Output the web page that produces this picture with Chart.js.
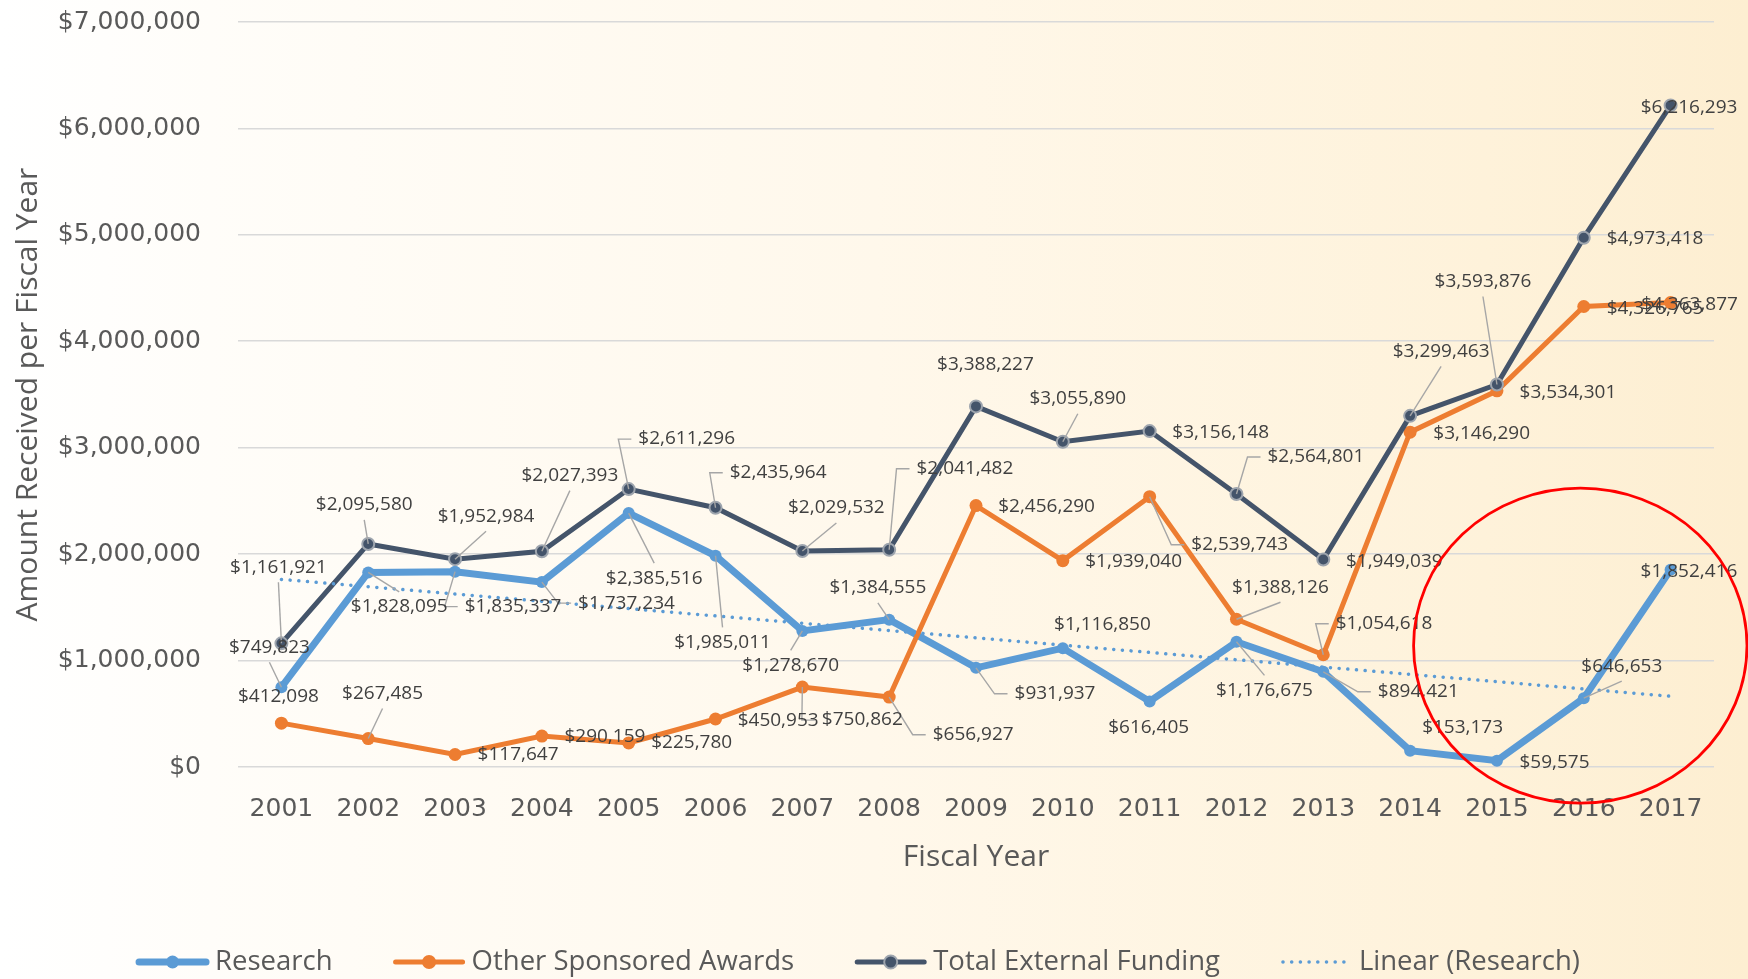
<!DOCTYPE html>
<html>
<head>
<meta charset="utf-8">
<title>External Funding by Fiscal Year</title>
<script src="https://cdn.jsdelivr.net/npm/chart.js@4.4.1/dist/chart.umd.min.js"></script>
<style>
  html, body { margin: 0; padding: 0; }
  body {
    width: 1748px; height: 979px; overflow: hidden;
    background: linear-gradient(90deg, #ffffff 0%, #fffdf9 12%, #fff8eb 50%, #fef2da 85%, #fdeed1 100%);
  }
</style>
</head>
<body>
<canvas id="funding-chart" width="1748" height="979"></canvas>
<script>
// Data
const years = ['2001', '2002', '2003', '2004', '2005', '2006', '2007', '2008', '2009',
               '2010', '2011', '2012', '2013', '2014', '2015', '2016', '2017'];

const research = [749823, 1828095, 1835337, 1737234, 2385516, 1985011, 1278670, 1384555, 931937,
                  1116850, 616405, 1176675, 894421, 153173, 59575, 646653, 1852416];

const otherAwards = [412098, 267485, 117647, 290159, 225780, 450953, 750862, 656927, 2456290,
                     1939040, 2539743, 1388126, 1054618, 3146290, 3534301, 4326765, 4363877];

const totalFunding = [1161921, 2095580, 1952984, 2027393, 2611296, 2435964, 2029532, 2041482, 3388227,
                      3055890, 3156148, 2564801, 1949039, 3299463, 3593876, 4973418, 6216293];

const yTickValues = [0, 1000000, 2000000, 3000000, 4000000, 5000000, 6000000, 7000000];

// Linear (Research) = least squares fit of the research series
const n = research.length;
const xMean = (n - 1) / 2;
const yMean = research.reduce((a, b) => a + b, 0) / n;
let sxy = 0, sxx = 0;
research.forEach((v, i) => { sxy += (i - xMean) * (v - yMean); sxx += (i - xMean) ** 2; });
const slope = sxy / sxx;
const researchTrend = research.map((v, i) => yMean + slope * (i - xMean));

// Label placement relative to each point: [dx, dy, leader line]
const researchLabelPos = [
  [-12, -40, 1], [31, 34.5, 1], [58, 35, 1], [84.6, 21, 1], [25.5, 65, 1], [7, 86.6, 1],
  [-11.7, 34.4, 1], [-11.3, -31.7, 1], [79, 26, 1], [39.6, -24, 0], [-1, 26, 0], [28, 48.6, 1],
  [95, 20, 1], [52.5, -23, 0], [57.6, 1.7, 0], [38, -32, 1], [18.4, 1.5, 0]
];
const otherLabelPos = [
  [-3, -27, 0], [14.3, -45, 1], [63, 0, 0], [63, 0, 0], [63, 0, 0], [62.6, 1.4, 0],
  [60, 33, 1], [84, 37.6, 1], [70.6, 1.3, 0], [70.8, 1, 0], [90, 48, 1], [44, -32, 1],
  [60.8, -31, 1], [71.6, 1, 0], [71, 1.4, 0], [71.3, 2.4, 0], [19, 2, 0]
];
const totalLabelPos = [
  [-3, -76, 1], [-4, -39, 1], [31, -43, 1], [28, -75.6, 1], [58, -50, 1], [62.6, -35, 1],
  [34, -43, 1], [75.7, -81, 1], [9.4, -42, 0], [15, -43, 1], [71, 1, 0], [79.4, -37, 1],
  [71, 2, 0], [31, -64.5, 1], [-14, -103, 1], [71.3, 1.2, 0], [18.5, 2.4, 0]
];

const money = v => '$' + Math.round(v).toLocaleString('en-US');

// Data labels with leader lines
const dataLabelPlugin = {
  id: 'dataLabels',
  afterDatasetsDraw(chart) {
    const ctx = chart.ctx;
    const layouts = [researchLabelPos, otherLabelPos, totalLabelPos];
    ctx.save();
    ctx.font = '19px "Open Sans"';
    const items = [];
    layouts.forEach((pos, di) => {
      const meta = chart.getDatasetMeta(di);
      const values = chart.data.datasets[di].data;
      meta.data.forEach((pt, i) => {
        const [dx, dy, leader] = pos[i];
        const text = money(values[i]);
        const halfW = ctx.measureText(text).width / 2;
        items.push({ px: pt.x, py: pt.y, cx: pt.x + dx, cy: pt.y + dy, dx, dy, leader, text, halfW });
      });
    });
    ctx.strokeStyle = '#a6a6a6';
    ctx.lineWidth = 1.4;
    items.forEach(it => {
      if (!it.leader) return;
      ctx.beginPath();
      ctx.moveTo(it.px, it.py);
      if (Math.abs(it.dx) > it.halfW + 8) {
        const s = Math.sign(it.dx);
        const endX = it.cx - s * (it.halfW + 7);
        ctx.lineTo(endX - s * 13, it.cy);
        ctx.lineTo(endX, it.cy);
      } else {
        ctx.lineTo(it.cx, it.cy + (it.dy < 0 ? 15 : -15));
      }
      ctx.stroke();
    });
    ctx.fillStyle = '#404040';
    ctx.textAlign = 'center';
    ctx.textBaseline = 'middle';
    items.forEach(it => ctx.fillText(it.text, it.cx, it.cy));
    ctx.restore();
  }
};

// Bottom legend drawn from the dataset styles
const legendPlugin = {
  id: 'bottomLegend',
  afterDraw(chart) {
    const ctx = chart.ctx;
    const sets = chart.data.datasets;
    const sample = 73, gap = 6, spacing = 60, y = 962;
    ctx.save();
    ctx.font = '27.5px "Open Sans"';
    const widths = sets.map(d => ctx.measureText(d.label).width);
    const total = widths.reduce((a, w) => a + sample + gap + w, 0) + spacing * (sets.length - 1);
    let x = 858 - total / 2;
    sets.forEach((d, i) => {
      ctx.save();
      ctx.strokeStyle = d.borderColor;
      ctx.lineWidth = d.borderWidth;
      ctx.lineCap = 'round';
      ctx.beginPath();
      if (d.borderDash) {
        ctx.setLineDash(d.borderDash);
        ctx.moveTo(x + 3, y);
        ctx.lineTo(x + sample - 6, y);
        ctx.stroke();
      } else {
        ctx.moveTo(x + 3, y);
        ctx.lineTo(x + sample - 3, y);
        ctx.stroke();
        ctx.beginPath();
        ctx.arc(x + sample / 2, y, d.pointRadius + 0.5, 0, Math.PI * 2);
        ctx.fillStyle = d.pointBackgroundColor;
        ctx.fill();
        if (d.pointBorderWidth) {
          ctx.lineWidth = d.pointBorderWidth;
          ctx.strokeStyle = d.pointBorderColor;
          ctx.stroke();
        }
      }
      ctx.restore();
      ctx.fillStyle = '#595959';
      ctx.textAlign = 'left';
      ctx.textBaseline = 'middle';
      ctx.fillText(d.label, x + sample + gap, y);
      x += sample + gap + widths[i] + spacing;
    });
    ctx.restore();
  }
};

// Red ellipse highlighting the last three years of research
const highlightPlugin = {
  id: 'highlight',
  afterDraw(chart) {
    const { ctx, scales: { x, y } } = chart;
    const cx = x.getPixelForValue(14.96);
    const cy = y.getPixelForValue(1140000);
    const rx = (x.getPixelForValue(1) - x.getPixelForValue(0)) * 1.92;
    const ry = y.getPixelForValue(0) - y.getPixelForValue(1480000);
    ctx.save();
    ctx.strokeStyle = '#ff0000';
    ctx.lineWidth = 2.8;
    ctx.beginPath();
    ctx.ellipse(cx, cy, rx, ry, 0, 0, Math.PI * 2);
    ctx.stroke();
    ctx.restore();
  }
};

const fundingChart = new Chart(document.getElementById('funding-chart').getContext('2d'), {
  type: 'line',
  data: {
    labels: years,
    datasets: [
      {
        label: 'Research',
        data: research,
        borderColor: '#5b9bd5',
        borderWidth: 7,
        pointRadius: 6,
        pointBackgroundColor: '#5b9bd5',
        pointBorderColor: '#5b9bd5',
        pointBorderWidth: 0,
        order: 4
      },
      {
        label: 'Other Sponsored Awards',
        data: otherAwards,
        borderColor: '#ed7d31',
        borderWidth: 5,
        pointRadius: 6.5,
        pointBackgroundColor: '#ed7d31',
        pointBorderColor: '#ed7d31',
        pointBorderWidth: 0,
        order: 3
      },
      {
        label: 'Total External Funding',
        data: totalFunding,
        borderColor: '#44546a',
        borderWidth: 5,
        pointRadius: 6,
        pointBackgroundColor: '#44546a',
        pointBorderColor: '#9ea5ae',
        pointBorderWidth: 2,
        order: 2
      },
      {
        label: 'Linear (Research)',
        data: researchTrend,
        borderColor: '#5b9bd5',
        borderWidth: 3.5,
        borderDash: [0.1, 8.6],
        borderCapStyle: 'round',
        pointRadius: 0,
        order: 1
      }
    ]
  },
  options: {
    responsive: false,
    animation: false,
    devicePixelRatio: 1,
    layout: { padding: { left: 10, right: 34, top: 22, bottom: 104 } },
    plugins: {
      legend: { display: false },
      tooltip: { enabled: false }
    },
    scales: {
      x: {
        offset: true,
        grid: { display: false, drawTicks: false },
        border: { display: false },
        ticks: {
          padding: 27,
          color: '#595959',
          font: { family: 'DejaVu Sans', size: 25 },
          autoSkip: false,
          maxRotation: 0
        },
        title: {
          display: true,
          text: 'Fiscal Year',
          color: '#595959',
          font: { family: 'Open Sans', size: 30 },
          padding: 0
        },
        afterFit: s => { s.height = 108; }
      },
      y: {
        min: yTickValues[0],
        max: yTickValues[yTickValues.length - 1],
        afterBuildTicks: s => { s.ticks = yTickValues.map(v => ({ value: v })); },
        grid: { color: '#d9d9d9', lineWidth: 1.6, drawTicks: false },
        border: { display: false },
        ticks: {
          padding: 37,
          color: '#595959',
          font: { family: 'DejaVu Sans', size: 25 },
          callback: v => money(v)
        },
        title: {
          display: true,
          text: 'Amount Received per Fiscal Year',
          color: '#595959',
          font: { family: 'Open Sans', size: 30 },
          padding: 0
        },
        afterFit: s => { s.width = 228; s.paddingTop = 0; s.paddingBottom = 0; }
      }
    }
  },
  plugins: [dataLabelPlugin, legendPlugin, highlightPlugin]
});
</script>
</body>
</html>
